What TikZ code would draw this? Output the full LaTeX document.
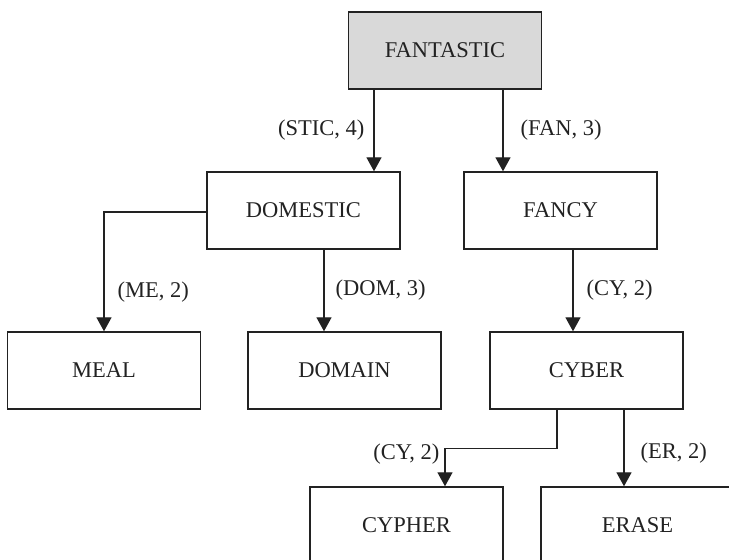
\documentclass[tikz,border=0pt]{standalone}
\usepackage{fontspec}
\setmainfont{Liberation Serif}
\usetikzlibrary{arrows.meta}
\definecolor{boxgray}{HTML}{D9D9D9}
\definecolor{ink}{HTML}{222222}
\tikzset{
  wordbox/.style={draw=ink, line width=1.4pt, minimum width=193pt, minimum height=77pt,
    inner sep=0pt, font=\fontsize{22.5}{26}\selectfont, text=ink},
  rootbox/.style={wordbox, fill=boxgray},
  arr/.style={draw=ink, line width=1.4pt, -{Triangle[width=15pt,length=14pt]}},
  edgelbl/.style={inner sep=0pt, font=\fontsize{22.5}{26}\selectfont, text=ink}
}
\begin{document}
\begin{tikzpicture}[x=1pt,y=1pt]
  \clip (0,0) rectangle (729,560);
  \fill[white] (0,0) rectangle (729,560);

  % tree nodes
  \node[rootbox] (fan)    at (445,509.5)   {FANTASTIC};
  \node[wordbox] (dom)    at (303.5,349.5) {DOMESTIC};
  \node[wordbox] (fancy)  at (560.5,349.5) {FANCY};
  \node[wordbox] (meal)   at (104,189.5)   {MEAL};
  \node[wordbox] (domain) at (344.5,189.5) {DOMAIN};
  \node[wordbox] (cyber)  at (586.5,189.5) {CYBER};
  \node[wordbox] (cypher) at (406.5,34.5)  {CYPHER};
  \node[wordbox] (erase)  at (637.5,34.5)  {ERASE};

  % edges with their labels
  \draw[arr] ([xshift=-71]fan.south) -- ([xshift=-71]fan.south |- dom.north)
    node[midway, left=9pt, edgelbl] {(STIC, 4)};
  \draw[arr] ([xshift=58]fan.south) -- ([xshift=58]fan.south |- fancy.north)
    node[midway, right=17pt, edgelbl] {(FAN, 3)};
  \draw[arr] ([yshift=-1.5]dom.west) -| (meal.north)
    node[pos=0.835, right=13pt, edgelbl] {(ME, 2)};
  \draw[arr] ([xshift=20.5]dom.south) -- ([xshift=20.5]dom.south |- domain.north)
    node[midway, right=11pt, edgelbl] {(DOM, 3)};
  \draw[arr] ([xshift=12.5]fancy.south) -- ([xshift=12.5]fancy.south |- cyber.north)
    node[midway, right=13pt, edgelbl] {(CY, 2)};
  \draw[arr] ([xshift=-29.5]cyber.south) -- ++(0,-39) -| ([xshift=38.5]cypher.north)
    node[pos=0.5, anchor=east, xshift=-5pt, yshift=-5pt, edgelbl] {(CY, 2)};
  \draw[arr] ([xshift=37.5]cyber.south) -- ([xshift=37.5]cyber.south |- erase.north)
    node[midway, right=16pt, yshift=-5pt, edgelbl] {(ER, 2)};
\end{tikzpicture}
\end{document}
